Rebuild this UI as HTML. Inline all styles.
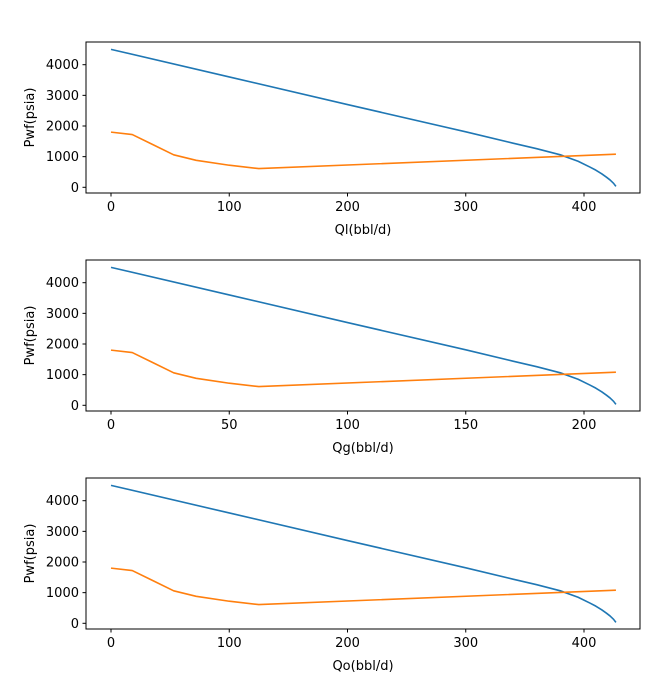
<!DOCTYPE html>
<html><head><meta charset="utf-8">
<style>
body{margin:0;background:#fff;}
svg{display:block;font-family:"DejaVu Sans","Liberation Sans",sans-serif;}
</style></head>
<body>
<svg id="fig" width="671" height="692" viewBox="0 0 671 692"></svg>
<script>
const qlValues=[0,100,200,300,340,360,380,395,405,410,415,419,422,425,427];
const qgValues=[0,50,100,150,170,180,190,197.5,202.5,205,207.5,209.5,211,212.5,213.5];
const qoValues=[0,100,200,300,340,360,380,395,405,410,415,419,422,425,427];
const iprPwf=[4500,3600,2700,1810,1440,1260,1060,850,660,560,440,330,240,130,30];
const tprQl=[0,18,35,53,72,100,125,427];
const tprQg=[0,9,17.5,26.5,36,50,62.5,213.5];
const tprQo=[0,18,35,53,72,100,125,427];
const tprPwf=[1800,1720,1400,1060,880,720,610,1080];
const yTicks=[0,1000,2000,3000,4000];
const xTicks1=[0,100,200,300,400];
const xTicks2=[0,50,100,150,200];
const xTicks3=[0,100,200,300,400];
const NS="http://www.w3.org/2000/svg";
const svg=document.getElementById('fig');
function mk(t,a,p){const e=document.createElementNS(NS,t);for(const k in a)e.setAttribute(k,a[k]);(p||svg).appendChild(e);return e;}
const L=86,R=640,H=151;
const panels=[
 {top:42,xmax:427,xt:xTicks1,lab:"Ql(bbl/d)",ipr:qlValues,tpr:tprQl,name:"ql"},
 {top:260,xmax:213.5,xt:xTicks2,lab:"Qg(bbl/d)",ipr:qgValues,tpr:tprQg,name:"qg"},
 {top:478,xmax:427,xt:xTicks3,lab:"Qo(bbl/d)",ipr:qoValues,tpr:tprQo,name:"qo"}];
panels.forEach(p=>{
 const g=mk('g',{});
 
 
 const x0=111,xs=(584-111)/(p.xmax*400/427);
 const sx=v=>x0+v*xs;
 const y0=p.top+145.3,ys=122.6/4000;
 const sy=v=>y0-v*ys;
 p.xt.forEach(t=>{
  const x=sx(t);
  mk('line',{x1:x,x2:x,y1:p.top+H,y2:p.top+H+3.5,stroke:'#000','stroke-width':1},g);
  const tx=mk('text',{x:x,y:p.top+H+18,'text-anchor':'middle','font-size':13,fill:'#000'},g);
  tx.textContent=t;
  
  
 });
 yTicks.forEach(t=>{
  const y=sy(t);
  mk('line',{x1:L-3.5,x2:L,y1:y,y2:y,stroke:'#000','stroke-width':1},g);
  const tx=mk('text',{x:L-7,y:y+4.5,'text-anchor':'end','font-size':13,fill:'#000'},g);
  tx.textContent=t;
  
  
 });
 const b=mk('polyline',{points:p.ipr.map((q,i)=>sx(q)+','+sy(iprPwf[i])).join(' '),fill:'none',stroke:'#1f77b4','stroke-width':1.6,'stroke-linejoin':'round'},g);
 
 
 const o=mk('polyline',{points:p.tpr.map((q,i)=>sx(q)+','+sy(tprPwf[i])).join(' '),fill:'none',stroke:'#ff7f0e','stroke-width':1.6,'stroke-linejoin':'round'},g);
 
 
 const fr=mk('rect',{x:L,y:p.top,width:R-L,height:H,fill:'none',stroke:'#000','stroke-width':1},g);
 
 
 const xl=mk('text',{x:(L+R)/2,y:p.top+H+41,'text-anchor':'middle','font-size':13,fill:'#000'},g);
 xl.textContent=p.lab;
 
 
 const yc=p.top+H/2;
 const yl=mk('text',{x:34,y:yc,'text-anchor':'middle','font-size':13,fill:'#000',transform:'rotate(-90 34 '+yc+')'},g);
 yl.textContent='Pwf(psia)';
 
 
});
</script>
</body></html>
